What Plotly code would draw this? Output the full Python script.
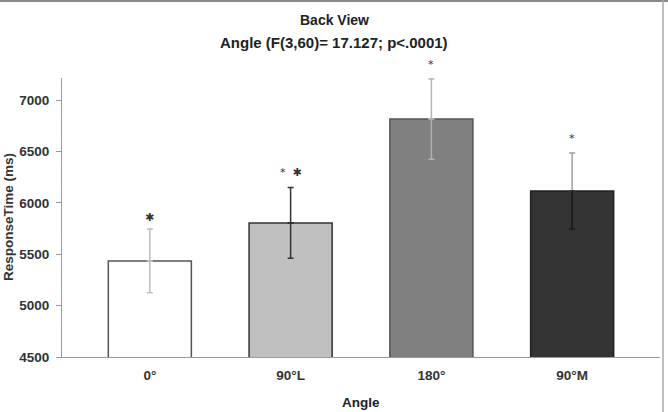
import plotly.graph_objects as go

categories = ["0°", "90°L", "180°", "90°M"]
means = [5435, 5805, 6815, 6115]
sem = [310, 345, 390, 370]
sig_labels = ["✱", "*&nbsp;&nbsp;✱", "*", "*"]
y_ticks = [4500, 5000, 5500, 6000, 6500, 7000]

bar_colors = ["#ffffff", "#c0c0c0", "#808080", "#333333"]
bar_lines = ["#555555", "#333333", "#555555", "#222222"]
err_up_colors = ["#bdbdbd", "#333333", "#b5b5b5", "#a0a0a0"]
err_dn_colors = ["#bdbdbd", "#333333", "#b0b0b0", "#1a1a1a"]

font = "Liberation Sans, Arial, sans-serif"
FS = 13.5
Y_MAX = 7215
T, B, L, R = 78, 55, 62, 8
PH = 412 - T - B
PW = 668 - L - R

fig = go.Figure()
for i, c in enumerate(categories):
    fig.add_trace(go.Bar(
        x=[c], y=[means[i]], width=0.59,
        marker=dict(color=bar_colors[i], line=dict(color=bar_lines[i], width=1.5)),
        error_y=dict(type="data", symmetric=False, array=[sem[i]], arrayminus=[0],
                     color=err_up_colors[i], thickness=1.5, width=3),
        showlegend=False, hoverinfo="skip",
    ))
    fig.add_trace(go.Scatter(
        x=[c], y=[means[i]], mode="markers", marker=dict(size=1, opacity=0),
        error_y=dict(type="data", symmetric=False, array=[0], arrayminus=[sem[i]],
                     color=err_dn_colors[i], thickness=1.5, width=3),
        showlegend=False, hoverinfo="skip",
    ))

anns = []
for i, c in enumerate(categories):
    heavy_only = sig_labels[i] == "✱"
    anns.append(dict(
        x=c, y=means[i] + sem[i], xref="x", yref="y", text=sig_labels[i],
        showarrow=False, yanchor="bottom", yshift=3 if heavy_only else 6,
        font=dict(family="DejaVu Sans, sans-serif", size=11, color="#333333"),
    ))

cx = (334 - L) / PW
anns.append(dict(x=cx, y=1 + (T - 20) / PH, xref="paper", yref="paper",
                 xanchor="center", yanchor="middle", text="<b>Back View</b>", showarrow=False,
                 font=dict(family=font, size=14, color="#222222")))
anns.append(dict(x=cx, y=1 + (T - 42) / PH, xref="paper", yref="paper",
                 xanchor="center", yanchor="middle", text="<b>Angle (F(3,60)= 17.127; p<.0001)</b>",
                 showarrow=False, font=dict(family=font, size=15, color="#222222")))
anns.append(dict(x=-(L - 8) / PW, y=(357 - 217) / PH, xref="paper", yref="paper",
                 xanchor="center", yanchor="middle", textangle=-90,
                 text="<b>ResponseTime (ms)</b>", showarrow=False,
                 font=dict(family=font, size=FS, color="#333333")))
anns.append(dict(x=(361 - L) / PW, y=-(402 - 357) / PH, xref="paper", yref="paper",
                 xanchor="center", yanchor="middle", text="<b>Angle</b>", showarrow=False,
                 font=dict(family=font, size=FS, color="#222222")))

fig.update_layout(
    width=668, height=412,
    margin=dict(l=L, r=R, t=T, b=B, autoexpand=False),
    paper_bgcolor="white", plot_bgcolor="white",
    font=dict(family=font, size=FS, color="#333333"),
    xaxis=dict(
        type="category", range=[-0.624, 3.624], showline=True, linecolor="#999999",
        linewidth=1, ticks="", showgrid=False, zeroline=False,
        tickvals=categories, ticktext=[f"<b>{c}</b>" for c in categories],
        tickfont=dict(family=font, size=FS, color="#333333"),
        ticklabelstandoff=6,
    ),
    yaxis=dict(
        range=[4500, Y_MAX], tickvals=y_ticks, ticktext=[f"<b>{v}</b>" for v in y_ticks],
        showline=True, linecolor="#999999", linewidth=1, ticks="outside", ticklen=5,
        tickcolor="#999999", showgrid=False, zeroline=False,
        tickfont=dict(family=font, size=FS, color="#333333"),
        ticklabelstandoff=4,
    ),
    showlegend=False,
    annotations=anns,
    shapes=[
        dict(type="line", xref="paper", yref="paper", x0=-L / PW, x1=(668 - L) / PW,
             y0=1 + (T - 1) / PH, y1=1 + (T - 1) / PH, line=dict(color="#8a8a8a", width=2)),
        dict(type="line", xref="paper", yref="paper", x0=(663 - L) / PW, x1=(663 - L) / PW,
             y0=-B / PH, y1=1 + T / PH, line=dict(color="#aaaaaa", width=1.5)),
    ],
)

fig.write_html("out.html")
